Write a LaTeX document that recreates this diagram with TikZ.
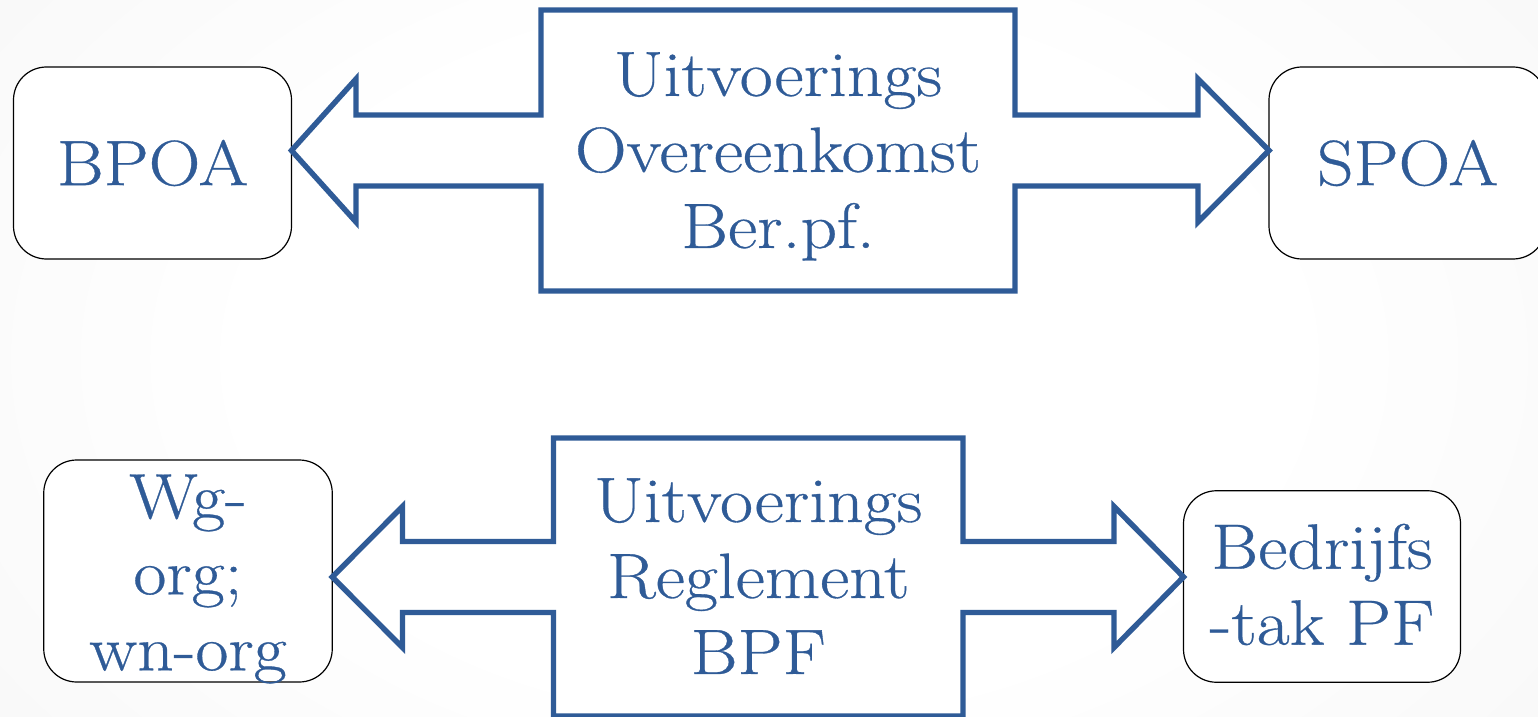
\documentclass[tikz,border=0pt]{standalone}
\usepackage{fontspec}
\setmainfont{Latin Modern Roman}[FakeStretch=1.12, FakeBold=0.5]
\usetikzlibrary{calc}
\definecolor{ublue}{RGB}{47,91,151}
\definecolor{bggray}{RGB}{236,236,236}
\pgfdeclareradialshading{bgshade}{\pgfpoint{0bp}{0bp}}{color(0bp)=(white); color(14bp)=(white); color(50bp)=(bggray); color(70bp)=(bggray)}
\tikzset{
  txt/.style={font=\fontsize{32}{38}\selectfont, text=ublue, align=center, inner sep=0pt},
  endbox/.style={draw=black, line width=0.6pt, fill=white, rounded corners=16.5pt, inner sep=0pt, outer sep=0pt},
  midbox/.style={inner sep=0pt, outer sep=0pt},
  arrowshape/.style={draw=ublue, line width=2.7pt, fill=white, miter limit=10}
}
\begin{document}
\begin{tikzpicture}[x=0.5pt, y=-0.5pt]
\useasboundingbox (0,0) rectangle (1538,717);
\fill[bggray] (0,0) rectangle (1538,717);
\shade[shading=bgshade] (-150,-250) rectangle (1688,967);

% ---------- top row ----------
\node[endbox, txt, minimum width=139pt, minimum height=96pt] (bpoa) at (152.5,163) {BPOA};
\node[endbox, txt, minimum width=138.5pt, minimum height=96pt] (spoa) at (1407.5,163) {SPOA};
\node[midbox, minimum width=237pt, minimum height=140.5pt] (uobox) at (778,150.5) {};
\draw[arrowshape]
  (uobox.north west) -- (uobox.north east)
  -- ($(uobox.east)+(0,-35.5)$) -- ($(uobox.east)+(183,-35.5)$)
  -- ($(uobox.east)+(183,-71.5)$) -- (spoa.west |- uobox.east)
  -- ($(uobox.east)+(183,71.5)$) -- ($(uobox.east)+(183,35.5)$)
  -- ($(uobox.east)+(0,35.5)$) -- (uobox.south east)
  -- (uobox.south west)
  -- ($(uobox.west)+(0,35.5)$) -- ($(uobox.west)+(-185,35.5)$)
  -- ($(uobox.west)+(-185,71.5)$) -- (bpoa.east |- uobox.west)
  -- ($(uobox.west)+(-185,-71.5)$) -- ($(uobox.west)+(-185,-35.5)$)
  -- ($(uobox.west)+(0,-35.5)$) -- cycle;
\node[txt] (uo) at (778,156.3) {Uitvoerings\\Overeenkomst\\Ber.pf.};

% ---------- bottom row ----------
\node[endbox, minimum width=144.25pt, minimum height=111pt] (wg) at (188,571) {};
\node[endbox, minimum width=138.5pt, minimum height=95.75pt] (bt) at (1322,586.5) {};
\node[midbox, minimum width=204.75pt, minimum height=139pt] (urbox) at (758.25,577) {};
\draw[arrowshape]
  (urbox.north west) -- (urbox.north east)
  -- ($(urbox.east)+(0,-35.5)$) -- ($(urbox.east)+(151,-35.5)$)
  -- ($(urbox.east)+(151,-70.5)$) -- (bt.west |- urbox.east)
  -- ($(urbox.east)+(151,70.5)$) -- ($(urbox.east)+(151,35.5)$)
  -- ($(urbox.east)+(0,35.5)$) -- (urbox.south east)
  -- (urbox.south west)
  -- ($(urbox.west)+(0,35.5)$) -- ($(urbox.west)+(-151,35.5)$)
  -- ($(urbox.west)+(-151,70.5)$) -- (wg.east |- urbox.west)
  -- ($(urbox.west)+(-151,-70.5)$) -- ($(urbox.west)+(-151,-35.5)$)
  -- ($(urbox.west)+(0,-35.5)$) -- cycle;
\node[txt] (ur) at (758.25,576.1) {Uitvoerings\\Reglement\\BPF};
\node[txt] (wgt) at (188,579) {Wg-\\org;\\wn-org};
\node[txt] (btt) at (1322,584.5) {Bedrijfs\\-tak PF};
\end{tikzpicture}
\end{document}
